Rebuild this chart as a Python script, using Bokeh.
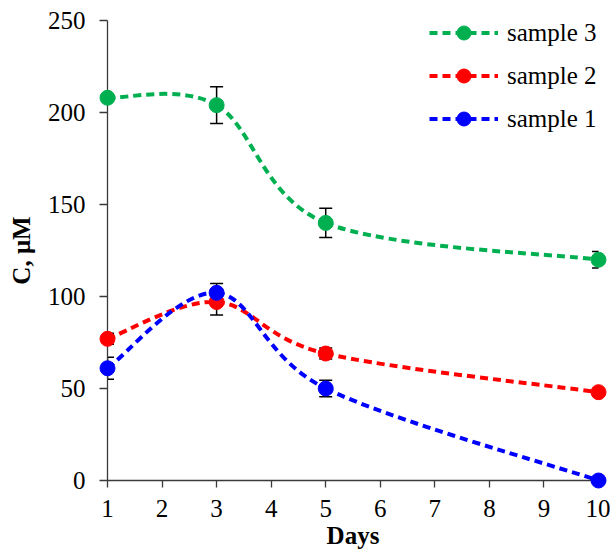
from bokeh.plotting import figure
from bokeh.models import (Range1d, FixedTicker, Whisker, TeeHead, ColumnDataSource,
                          Legend, LegendItem)
from bokeh.embed import file_html
from bokeh.resources import INLINE

# ---- data ----
days = [1, 3, 5, 10]
sample1 = [61, 102, 50, 0]
sample2 = [77, 97, 69, 48]
sample3 = [208, 204, 140, 120]
err1 = [6, 5, 4.5, 0]
err2 = [3, 7, 3, 0]
err3 = [0, 10, 8, 4.5]
labels = ["sample 1", "sample 2", "sample 3"]
colors = ["#0000FF", "#FF0000", "#00B050"]
x_ticks = [1, 2, 3, 4, 5, 6, 7, 8, 9, 10]
y_ticks = [0, 50, 100, 150, 200, 250]

FONT = "Liberation Serif"

p = figure(width=610, height=557, output_backend="svg", toolbar_location=None,
           x_range=Range1d(x_ticks[0], x_ticks[-1]),
           y_range=Range1d(y_ticks[0], y_ticks[-1]),
           min_border_left=107, min_border_right=12,
           min_border_top=20, min_border_bottom=77)
p.outline_line_color = None
p.grid.visible = False
p.background_fill_color = "white"
p.border_fill_color = "white"

AX = "#3a3a3a"
for ax in (p.xaxis[0], p.yaxis[0]):
    ax.axis_line_color = AX
    ax.axis_line_width = 1.3
    ax.major_tick_line_color = AX
    ax.major_tick_line_width = 1.3
    ax.major_tick_in = 0
    ax.minor_tick_line_color = None
    ax.major_label_text_font = FONT
    ax.major_label_text_font_size = "25px"
    ax.major_label_text_color = "black"
    ax.axis_label_text_font = FONT
    ax.axis_label_text_font_style = "bold"
    ax.axis_label_text_font_size = "25px"
    ax.axis_label_text_color = "black"

xa = p.xaxis[0]
xa.ticker = FixedTicker(ticks=x_ticks)
xa.major_tick_out = 7
xa.major_label_standoff = 12
xa.axis_label = "Days"
xa.axis_label_standoff = 2

ya = p.yaxis[0]
ya.ticker = FixedTicker(ticks=y_ticks)
ya.major_tick_out = 8
ya.major_label_standoff = 14
ya.axis_label = "C, μM"
ya.axis_label_standoff = 10


def smooth_segments(xs, ys):
    """Bezier control points (Catmull-Rom style smoothing, like a spreadsheet's smoothed line)."""
    pts = list(zip(xs, ys))
    n = len(pts)
    d = dict(x0=[], y0=[], x1=[], y1=[], cx0=[], cy0=[], cx1=[], cy1=[])
    for i in range(n - 1):
        pp = pts[i - 1] if i > 0 else pts[i]
        p0, p1 = pts[i], pts[i + 1]
        pn = pts[i + 2] if i + 2 < n else pts[i + 1]
        d["x0"].append(p0[0]); d["y0"].append(p0[1])
        d["x1"].append(p1[0]); d["y1"].append(p1[1])
        d["cx0"].append(p0[0] + (p1[0] - pp[0]) / 6)
        d["cy0"].append(p0[1] + (p1[1] - pp[1]) / 6)
        d["cx1"].append(p1[0] - (pn[0] - p0[0]) / 6)
        d["cy1"].append(p1[1] - (pn[1] - p0[1]) / 6)
    return d


series = [sample1, sample2, sample3]
errs = [err1, err2, err3]
items = {}
for idx in (2, 1, 0):
    ys, er, col, lab = series[idx], errs[idx], colors[idx], labels[idx]
    keep = [i for i in range(len(days)) if er[i] > 0]
    wsrc = ColumnDataSource(dict(x=[days[i] for i in keep],
                                 upper=[ys[i] + er[i] for i in keep],
                                 lower=[ys[i] - er[i] for i in keep]))
    w = Whisker(base="x", upper="upper", lower="lower", source=wsrc, level="underlay",
                line_color="black", line_width=1.5,
                upper_head=TeeHead(size=13, line_color="black", line_width=1.5),
                lower_head=TeeHead(size=13, line_color="black", line_width=1.5))
    p.add_layout(w)
    bsrc = ColumnDataSource(smooth_segments(days, ys))
    b = p.bezier(x0="x0", y0="y0", x1="x1", y1="y1", cx0="cx0", cy0="cy0",
                 cx1="cx1", cy1="cy1", source=bsrc, line_color=col,
                 line_width=4, line_dash="8 5")
    # markers drawn on the overlay level so that points on the axes are not cut off
    s = p.scatter(x=days, y=ys, size=15, color=col, level="overlay")
    items[idx] = LegendItem(label=lab, renderers=[b, s])

legend = Legend(items=[items[2], items[1], items[0]],
                location=(322, 344), glyph_width=69, glyph_height=35,
                label_standoff=9, spacing=8, padding=0, margin=0,
                border_line_color=None, background_fill_alpha=0,
                label_text_font=FONT, label_text_font_size="25px",
                label_text_color="black", label_height=20)
p.add_layout(legend)

open("out.html", "w").write(file_html(p, INLINE))
